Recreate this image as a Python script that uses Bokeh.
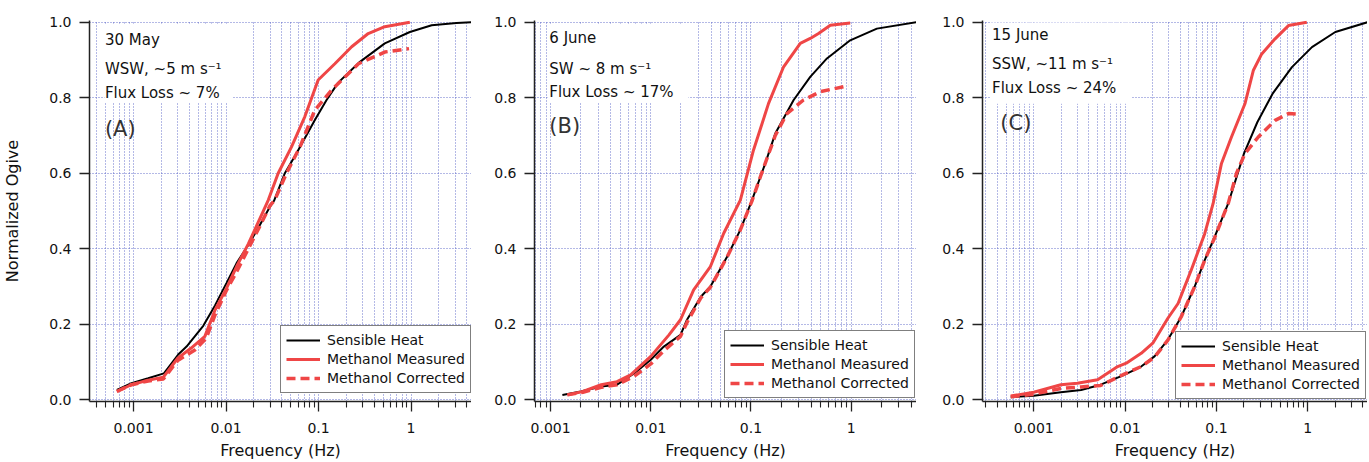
from bokeh.plotting import figure
from bokeh.layouts import row
from bokeh.models import (Range1d, FixedTicker, CustomJSTickFormatter, Label, BoxAnnotation)
from bokeh.embed import file_html
from bokeh.resources import INLINE

FONT = "DejaVu Sans"
RED = "#ef4646"
GRID = "#4d59c4"

# ---------------- data ----------------
x_major = [0.001, 0.01, 0.1, 1]
x_minor_mult = [2, 3, 4, 5, 6, 7, 8, 9]
y_major = [0.0, 0.2, 0.4, 0.6, 0.8, 1.0]
legend_labels = ["Sensible Heat", "Methanol Measured", "Methanol Corrected"]

# Panel A (30 May)
a_sh_f = [0.00066, 0.00095, 0.00144, 0.00213, 0.00304, 0.00374, 0.00567, 0.0076, 0.0101, 0.013, 0.0174,
          0.0232, 0.0298, 0.033, 0.0432, 0.0578, 0.0912, 0.122, 0.163, 0.28, 0.52, 0.97, 1.67, 3.1, 4.5]
a_sh = [0.026, 0.044, 0.057, 0.07, 0.12, 0.141, 0.196, 0.25, 0.309, 0.362, 0.41,
        0.463, 0.511, 0.527, 0.6, 0.653, 0.741, 0.794, 0.84, 0.895, 0.944, 0.974, 0.992, 0.998, 1.0]
a_me_f = [0.00066, 0.00095, 0.00144, 0.0021, 0.003, 0.0042, 0.0059, 0.0076, 0.0101, 0.013, 0.0174,
          0.0232, 0.0286, 0.0366, 0.051, 0.0711, 0.099, 0.150, 0.228, 0.344, 0.52, 0.97]
a_me = [0.022, 0.04, 0.052, 0.06, 0.11, 0.137, 0.168, 0.238, 0.295, 0.353, 0.413,
        0.48, 0.529, 0.6, 0.67, 0.75, 0.847, 0.89, 0.935, 0.97, 0.988, 1.0]
a_co_f = [0.00066, 0.00095, 0.00144, 0.0021, 0.003, 0.0046, 0.0061, 0.0076, 0.0101, 0.013, 0.0174,
          0.0232, 0.0298, 0.0336, 0.045, 0.063, 0.091, 0.138, 0.27, 0.52, 0.95]
a_co = [0.022, 0.04, 0.05, 0.055, 0.104, 0.132, 0.163, 0.225, 0.29, 0.339, 0.4,
        0.46, 0.514, 0.529, 0.6, 0.67, 0.767, 0.82, 0.89, 0.921, 0.93]

# Panel B (6 June)
b_sh_f = [0.00131, 0.002, 0.0032, 0.0046, 0.0068, 0.01, 0.0135, 0.0198, 0.023, 0.0316, 0.0394,
          0.0578, 0.0784, 0.1025, 0.139, 0.175, 0.267, 0.391, 0.574, 0.98, 1.81, 4.5]
b_sh = [0.013, 0.022, 0.035, 0.04, 0.07, 0.106, 0.141, 0.172, 0.212, 0.273, 0.30,
        0.379, 0.45, 0.529, 0.626, 0.705, 0.794, 0.855, 0.904, 0.952, 0.983, 1.0]
b_me_f = [0.00147, 0.0021, 0.0032, 0.0046, 0.0063, 0.01, 0.0152, 0.0198, 0.0268, 0.0394, 0.0535,
          0.0784, 0.106, 0.150, 0.212, 0.311, 0.391, 0.473, 0.62, 0.98]
b_me = [0.013, 0.022, 0.04, 0.048, 0.066, 0.115, 0.172, 0.212, 0.291, 0.353, 0.441,
        0.529, 0.661, 0.785, 0.882, 0.944, 0.957, 0.97, 0.992, 0.998]
b_co_f = [0.00147, 0.0021, 0.0032, 0.0046, 0.0068, 0.01, 0.0135, 0.0198, 0.023, 0.0316, 0.0394,
          0.0578, 0.0784, 0.1025, 0.124, 0.175, 0.229, 0.335, 0.492, 0.94]
b_co = [0.013, 0.02, 0.033, 0.04, 0.062, 0.095, 0.13, 0.168, 0.205, 0.27, 0.298,
        0.378, 0.45, 0.527, 0.59, 0.70, 0.758, 0.794, 0.816, 0.832]

# Panel C (15 June)
c_sh_f = [0.00056, 0.001, 0.00198, 0.0033, 0.0054, 0.0098, 0.015, 0.021, 0.0294, 0.0412, 0.0578,
          0.0744, 0.0958, 0.1345, 0.2, 0.28, 0.41, 0.67, 1.11, 2.0, 4.5]
c_sh = [0.007, 0.011, 0.02, 0.026, 0.04, 0.066, 0.088, 0.115, 0.159, 0.22, 0.3,
        0.37, 0.432, 0.52, 0.652, 0.735, 0.81, 0.881, 0.934, 0.974, 1.0]
c_me_f = [0.00056, 0.001, 0.00198, 0.003, 0.005, 0.0083, 0.0103, 0.015, 0.0201, 0.0294, 0.038,
          0.053, 0.0744, 0.092, 0.1135, 0.146, 0.205, 0.253, 0.313, 0.438, 0.614, 0.975]
c_me = [0.01, 0.02, 0.04, 0.044, 0.053, 0.088, 0.097, 0.123, 0.15, 0.216, 0.255,
        0.344, 0.44, 0.52, 0.626, 0.696, 0.784, 0.872, 0.916, 0.956, 0.991, 1.0]
c_co_f = [0.00056, 0.001, 0.00198, 0.0033, 0.0054, 0.0098, 0.015, 0.021, 0.0294, 0.0412, 0.0578,
          0.0744, 0.0958, 0.1345, 0.166, 0.205, 0.287, 0.438, 0.614, 0.82]
c_co = [0.008, 0.015, 0.03, 0.034, 0.038, 0.068, 0.088, 0.113, 0.158, 0.22, 0.3,
        0.37, 0.43, 0.52, 0.6, 0.652, 0.696, 0.74, 0.758, 0.756]

a_text = ["30 May", "WSW, ~5 m s\u207b\u00b9", "Flux Loss ~ 7%", "(A)"]
b_text = ["6 June", "SW ~ 8 m s\u207b\u00b9", "Flux Loss ~ 17%", "(B)"]
c_text = ["15 June", "SSW, ~11 m s\u207b\u00b9", "Flux Loss ~ 24%", "(C)"]

# -------------- helpers ---------------
minor_ticks = [m * 10.0 ** e for e in range(-4, 1) for m in x_minor_mult]


def make_panel(width, border_left, xmin, series, texts, text_x, text_y, label_x, label_y,
               mask, legend_loc, ylabel=None, top=20):
    p = figure(width=width, height=462, x_axis_type="log",
               x_range=Range1d(xmin, 4.5), y_range=Range1d(-0.0045, 1.0045),
               output_backend="svg", toolbar_location=None,
               min_border_left=border_left, min_border_right=0, min_border_top=top,
               min_border_bottom=462 - top - 382)
    p.outline_line_color = None
    p.background_fill_color = "white"

    # mask box behind the annotation text (hides grid)
    p.add_layout(BoxAnnotation(left=mask[0], right=mask[1], bottom=mask[2], top=mask[3],
                               fill_color="white", fill_alpha=1.0, line_color=None,
                               level="underlay"))

    (sf, sv), (mf, mv), (cf, cv) = series
    p.line(sf, sv, line_color="black", line_width=2, legend_label=legend_labels[0])
    p.line(mf, mv, line_color=RED, line_width=3, legend_label=legend_labels[1])
    p.line(cf, cv, line_color=RED, line_width=3.5, line_dash="9 5", legend_label=legend_labels[2])

    xt = FixedTicker(ticks=x_major, minor_ticks=minor_ticks)
    p.xaxis.ticker = xt
    p.xgrid.ticker = xt
    p.xaxis.formatter = CustomJSTickFormatter(code="return tick.toString();")
    p.yaxis.ticker = FixedTicker(ticks=y_major, minor_ticks=[])
    p.ygrid.ticker = FixedTicker(ticks=y_major, minor_ticks=[])
    p.yaxis.formatter = CustomJSTickFormatter(code="return tick.toFixed(1);")

    for ax in (p.xaxis[0], p.yaxis[0]):
        ax.axis_line_color = "#222222"
        ax.axis_line_width = 1.5
        ax.major_tick_line_color = "#222222"
        ax.minor_tick_line_color = "#222222"
        ax.major_tick_line_width = 1.3
        ax.minor_tick_line_width = 1.1
        ax.major_tick_in = 0
        ax.minor_tick_in = 0
        ax.major_label_text_font = FONT
        ax.major_label_text_font_size = "14px"
        ax.major_label_text_color = "#111111"
        ax.major_label_text_line_height = 1.0
        ax.axis_label_text_font = FONT
        ax.axis_label_text_font_size = "16px"
        ax.axis_label_text_font_style = "normal"
        ax.axis_label_text_color = "#111111"
        ax.axis_label_text_line_height = 1.0
    p.xaxis.major_tick_out = 10
    p.xaxis.minor_tick_out = 6
    p.xaxis.major_label_standoff = 11
    p.xaxis.axis_label = "Frequency (Hz)"
    p.xaxis.axis_label_standoff = 5
    p.yaxis.major_tick_out = 10
    p.yaxis.minor_tick_out = 0
    p.yaxis.major_label_standoff = 8
    if ylabel:
        p.yaxis.axis_label = ylabel
        p.yaxis.axis_label_standoff = 24

    for g in (p.xgrid[0], p.ygrid[0]):
        g.grid_line_color = GRID
        g.grid_line_alpha = 0.85
        g.grid_line_width = 1
        g.grid_line_dash = "1 2"
    p.xgrid.minor_grid_line_color = GRID
    p.xgrid.minor_grid_line_alpha = 0.85
    p.xgrid.minor_grid_line_width = 1
    p.xgrid.minor_grid_line_dash = "1 2"

    for t, y in zip(texts[:3], text_y):
        p.add_layout(Label(x=text_x, y=y, text=t, text_font=FONT, text_font_size="15px",
                           text_color="#111111", text_baseline="middle", text_align="left"))
    p.add_layout(Label(x=label_x, y=label_y, text=texts[3], text_font=FONT, text_font_size="21px",
                       text_color="#333333", text_baseline="middle", text_align="left"))

    lg = p.legend[0]
    lg.location = legend_loc
    lg.label_text_font = FONT
    lg.label_text_font_size = "14px"
    lg.label_text_color = "#111111"
    lg.glyph_width = 34
    lg.glyph_height = 18
    lg.label_height = 18
    lg.label_standoff = 7
    lg.padding = 5
    lg.spacing = 1
    lg.margin = 0
    lg.border_line_color = "black"
    lg.border_line_width = 1.5
    lg.background_fill_color = "white"
    lg.background_fill_alpha = 1.0
    return p


pa = make_panel(471, 88, 0.000334,
                [(a_sh_f, a_sh), (a_me_f, a_me), (a_co_f, a_co)],
                a_text, 0.00049, [0.953, 0.876, 0.813], 0.00049, 0.716,
                (0.000485, 0.01174, 0.786, 0.996), (191, 8), ylabel="Normalized Ogive")
pb = make_panel(445, 63, 0.00069,
                [(b_sh_f, b_sh), (b_me_f, b_me), (b_co_f, b_co)],
                b_text, 0.00097, [0.958, 0.876, 0.815], 0.00097, 0.724,
                (0.000933, 0.02376, 0.786, 0.996), (190, 3))
pc = make_panel(451, 66, 0.000275,
                [(c_sh_f, c_sh), (c_me_f, c_me), (c_co_f, c_co)],
                c_text, 0.00035, [0.967, 0.888, 0.826], 0.000431, 0.732,
                (0.000337, 0.01164, 0.784, 0.999), (193, 2))

layout = row(pa, pb, pc, spacing=0)
open("out.html", "w").write(file_html(layout, INLINE))
